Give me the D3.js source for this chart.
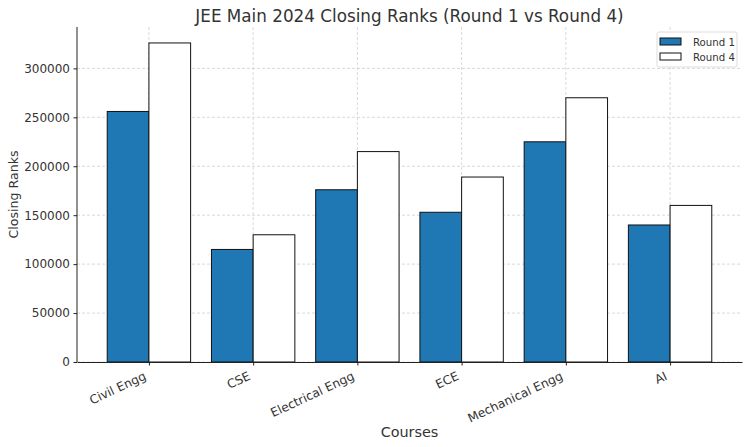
<!DOCTYPE html>
<html>
<head>
<meta charset="utf-8">
<script src="https://cdn.jsdelivr.net/npm/d3@7"></script>
<style>
  body { margin: 0; background: #fff; }
  svg { font-family: "DejaVu Sans", sans-serif; }
  .grid line { stroke: #cfcfcf; stroke-width: 0.8; stroke-dasharray: 3,2; }
</style>
</head>
<body>
<div id="chart"></div>
<script>
const courses = ["Civil Engg", "CSE", "Electrical Engg", "ECE", "Mechanical Engg", "AI"];
const round1 = [256000, 115000, 176000, 153000, 225000, 140000];
const round4 = [326000, 130000, 215000, 189000, 270000, 160000];
const yTicks = [0, 50000, 100000, 150000, 200000, 250000, 300000];
const seriesNames = ["Round 1", "Round 4"];
const seriesColors = ["#1f77b4", "#ffffff"];

const width = 750;
const height = 447;
const plotLeft = 77;
const plotRight = 742;
const plotTop = 27;
const plotBottom = 362;
const barW = 0.4;

const svg = d3
  .select("#chart")
  .append("svg")
  .attr("width", width)
  .attr("height", height);

// matplotlib-like 5% margins on x, sticky 0 on y
const xMin = -barW, xMax = courses.length - 1 + barW;
const xPad = (xMax - xMin) * 0.05;
const x = d3.scaleLinear().domain([xMin - xPad, xMax + xPad]).range([plotLeft, plotRight]);
const yMax = d3.max(round1.concat(round4)) * 1.05;
const y = d3.scaleLinear().domain([0, yMax]).range([plotBottom, plotTop]);

// grid
const grid = svg.append("g").attr("class", "grid");
grid
  .selectAll("line.h")
  .data(yTicks)
  .join("line")
  .attr("x1", plotLeft)
  .attr("x2", plotRight)
  .attr("y1", (d) => y(d))
  .attr("y2", (d) => y(d));
grid
  .selectAll("line.v")
  .data(courses)
  .join("line")
  .attr("x1", (d, i) => x(i))
  .attr("x2", (d, i) => x(i))
  .attr("y1", plotTop)
  .attr("y2", plotBottom);

// bars
const series = [round1, round4];
series.forEach((vals, s) => {
  svg
    .append("g")
    .selectAll("rect")
    .data(vals)
    .join("rect")
    .attr("x", (d, i) => x(i + (s === 0 ? -barW / 2 : barW / 2) - barW / 2))
    .attr("width", x(barW) - x(0))
    .attr("y", (d) => y(d))
    .attr("height", (d) => y(0) - y(d))
    .attr("fill", seriesColors[s])
    .attr("stroke", "#111")
    .attr("stroke-width", 1);
});

// axes
const yAxis = svg
  .append("g")
  .attr("transform", `translate(${plotLeft},0)`)
  .call(d3.axisLeft(y).tickValues(yTicks).tickFormat(d3.format("d")).tickSize(3.5).tickPadding(3.5).tickSizeOuter(0));
yAxis.select(".domain").attr("d", `M0,${plotTop}V${plotBottom}`);

const xAxis = svg
  .append("g")
  .attr("transform", `translate(0,${plotBottom})`)
  .call(d3.axisBottom(x).tickValues(d3.range(courses.length)).tickFormat("").tickSize(3.5).tickSizeOuter(0));

[yAxis, xAxis].forEach((a) => {
  a.select(".domain").attr("stroke", "#222").attr("stroke-width", 1);
  a.selectAll(".tick line").attr("stroke", "#222");
});
yAxis.selectAll(".tick text").attr("font-size", 12).attr("fill", "#333").attr("font-family", "DejaVu Sans");

// rotated x tick labels
svg
  .append("g")
  .selectAll("text")
  .data(courses)
  .join("text")
  .attr("transform", (d, i) => `translate(${x(i) - 2},${plotBottom + 17}) rotate(-25)`)
  .attr("text-anchor", "end")
  .attr("font-size", 12.2)
  .attr("fill", "#333")
  .text((d) => d);

// titles
svg
  .append("text")
  .attr("x", (plotLeft + plotRight) / 2)
  .attr("y", 22)
  .attr("text-anchor", "middle")
  .attr("font-size", 16.8)
  .attr("fill", "#333")
  .text("JEE Main 2024 Closing Ranks (Round 1 vs Round 4)");

svg
  .append("text")
  .attr("x", (plotLeft + plotRight) / 2)
  .attr("y", 437)
  .attr("text-anchor", "middle")
  .attr("font-size", 14.4)
  .attr("fill", "#333")
  .text("Courses");

svg
  .append("text")
  .attr("transform", `translate(18,${(plotTop + plotBottom) / 2}) rotate(-90)`)
  .attr("text-anchor", "middle")
  .attr("font-size", 12.6)
  .attr("fill", "#333")
  .text("Closing Ranks");

// legend
const legend = svg.append("g").attr("transform", "translate(657,32)");
legend
  .append("rect")
  .attr("width", 80)
  .attr("height", 35)
  .attr("rx", 2)
  .attr("fill", "#fff")
  .attr("fill-opacity", 0.8)
  .attr("stroke", "#ddd");
const item = legend
  .selectAll("g")
  .data(seriesNames)
  .join("g")
  .attr("transform", (d, i) => `translate(3,${6 + i * 15})`);
item
  .append("rect")
  .attr("width", 21)
  .attr("height", 7)
  .attr("fill", (d, i) => seriesColors[i])
  .attr("stroke", "#111");
item
  .append("text")
  .attr("x", 33)
  .attr("y", 7.5)
  .attr("font-size", 10.2)
  .attr("fill", "#333")
  .text((d) => d);
</script>
</body>
</html>
